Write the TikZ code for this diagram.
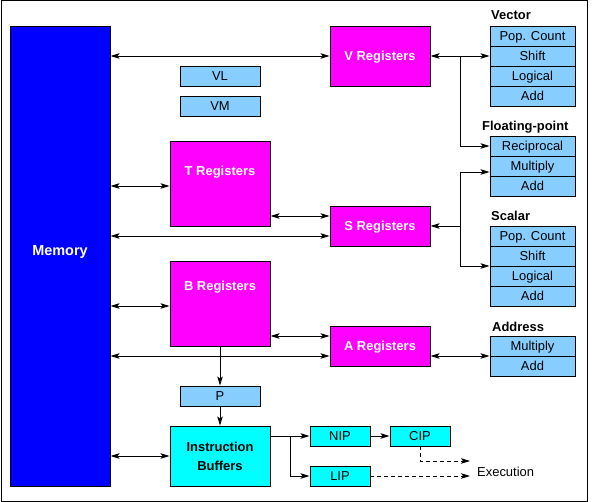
\documentclass[tikz,border=0pt]{standalone}
\usepackage{fontspec}
\setmainfont{Liberation Sans}
\usetikzlibrary{arrows.meta}
\definecolor{regmag}{RGB}{255,0,255}
\definecolor{memblue}{RGB}{0,0,255}
\definecolor{unitblue}{RGB}{135,206,255}
\definecolor{ibcyan}{RGB}{0,255,255}
\begin{document}
\begin{tikzpicture}[x=1bp,y=-1bp,
  >={Stealth[length=9bp,width=5.5bp,inset=2bp]},
  every node/.style={inner sep=0pt},
  conn/.style={line width=0.9bp},
  dashconn/.style={line width=0.9bp,dash pattern=on 4bp off 3bp},
  boldtxt/.style={font=\bfseries\fontsize{13}{19.3}\selectfont},
  regtxt/.style={font=\fontsize{13}{15}\selectfont, text height=9.3bp, text depth=0pt},
  reg/.style={draw, line width=0.9bp, fill=regmag, minimum width=100bp, text=white, boldtxt, text height=9.3bp, text depth=0pt},
  reglab/.style={text=white, boldtxt, text height=9.3bp, text depth=0pt},
  unit/.style={draw, line width=0.9bp, fill=unitblue, minimum width=85bp, minimum height=20bp, regtxt},
  small/.style={draw, line width=0.9bp, fill=unitblue, minimum width=80bp, minimum height=20bp, regtxt},
  ip/.style={draw, line width=0.9bp, fill=ibcyan, minimum width=60bp, minimum height=20bp, regtxt},
  grplab/.style={boldtxt, anchor=base west}
]
\useasboundingbox (0,0) rectangle (592,502);
\draw[line width=1bp] (1,1) rectangle (587,501);

% Memory
\node[draw, line width=0.9bp, fill=memblue, minimum width=100bp, minimum height=460bp,
  label={[text=white, font=\bfseries\fontsize{14.5}{16}\selectfont, text height=10.4bp, text depth=0pt, yshift=6bp]center:Memory}] (Mem) at (60,256) {};

% registers
\node[reg, minimum height=60bp] (V) at (380,56) {V Registers};
\node[reg, minimum height=85bp, label={[reglab,yshift=12.5bp]center:T Registers}] (T) at (220,183.5) {};
\node[reg, minimum height=40bp] (S) at (380,226) {S Registers};
\node[reg, minimum height=85bp, label={[reglab,yshift=17.5bp]center:B Registers}] (B) at (220,303.5) {};
\node[reg, minimum height=40bp] (A) at (380,346) {A Registers};

% small boxes
\node[small] (VL) at (220,76) {VL};
\node[small] (VM) at (220,106) {VM};
\node[small] (P) at (220,396) {P};

% instruction buffers
\node[draw, line width=0.9bp, fill=ibcyan, minimum width=100bp, minimum height=60bp, boldtxt, align=center] (IB) at (220,456) {Instruction\\Buffers};
\node[ip] (NIP) at (340,436) {NIP};
\node[ip] (CIP) at (420,436) {CIP};
\node[ip] (LIP) at (340,476) {LIP};
\node[regtxt, anchor=base west, text height=] (Exe) at (477,476) {Execution};

% functional units
\node[grplab] (lVec) at (491,20) {Vector};
\node[unit] (VPop) at (532.5,36) {Pop. Count};
\node[unit] (VShift) at (532.5,56) {Shift};
\node[unit] (VLog) at (532.5,76) {Logical};
\node[unit] (VAdd) at (532.5,96) {Add};

\node[grplab] (lFlt) at (482,131) {Floating-point};
\node[unit] (FRec) at (532.5,146) {Reciprocal};
\node[unit] (FMul) at (532.5,166) {Multiply};
\node[unit] (FAdd) at (532.5,186) {Add};

\node[grplab] (lSca) at (491,221) {Scalar};
\node[unit] (SPop) at (532.5,236) {Pop. Count};
\node[unit] (SShift) at (532.5,256) {Shift};
\node[unit] (SLog) at (532.5,276) {Logical};
\node[unit] (SAdd) at (532.5,296) {Add};

\node[grplab] (lAdr) at (492,331) {Address};
\node[unit] (AMul) at (532.5,346) {Multiply};
\node[unit] (AAdd) at (532.5,366) {Add};

% helper coordinates
\coordinate (yMT) at (140,186);
\coordinate (yTS) at (300,216);
\coordinate (yMS) at (140,236);
\coordinate (yMB) at (140,306);
\coordinate (yBA) at (300,336);
\coordinate (yMA) at (140,356);
\coordinate (Vbr) at (460,56);
\coordinate (Sbr) at (460,226);
\coordinate (Sbt) at (460,172);
\coordinate (Sbb) at (460,266);
\coordinate (IBbr) at (290,436);
\coordinate (ex1) at (470,461);
\coordinate (ex2) at (470,476);

% memory connections
\draw[conn,<->] (Mem.east |- V.west) -- (V.west);
\draw[conn,<->] (Mem.east |- yMT) -- (T.west |- yMT);
\draw[conn,<->] (T.east |- yTS) -- (S.west |- yTS);
\draw[conn,<->] (Mem.east |- yMS) -- (S.west |- yMS);
\draw[conn,<->] (Mem.east |- yMB) -- (B.west |- yMB);
\draw[conn,<->] (B.east |- yBA) -- (A.west |- yBA);
\draw[conn,<->] (Mem.east |- yMA) -- (A.west |- yMA);
\draw[conn,<->] (Mem.east |- IB.west) -- (IB.west);

% to functional units
\draw[conn,<->] (V.east) -- (VShift.west);
\draw[conn,->] (Vbr) |- (FRec.west);
\draw[conn,<-] (S.east) -- (Sbr);
\draw[conn] (Sbt) -- (Sbb);
\draw[conn,->] (Sbt) -- (FMul.west |- Sbt);
\draw[conn,->] (Sbb) -- (SShift.west |- Sbb);
\draw[conn,<->] (A.east |- yMA) -- (AMul.west |- yMA);

% instruction path
\draw[conn,->] (B.south) -- (P.north);
\draw[conn,->] (P.south) -- (IB.north);
\draw[conn,->] (IB.east |- NIP.west) -- (NIP.west);
\draw[conn,->] (IBbr) |- (LIP.west);
\draw[conn,->] (NIP.east) -- (CIP.west);
\draw[dashconn,->] (CIP.south) |- (ex1);
\draw[dashconn,->] (LIP.east) -- (ex2);
\end{tikzpicture}
\end{document}
